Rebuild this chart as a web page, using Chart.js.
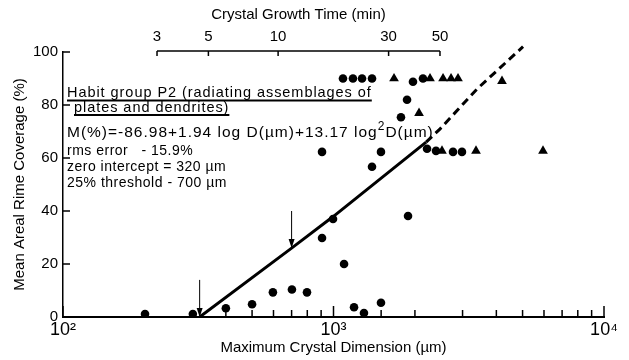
<!DOCTYPE html>
<html>
<head>
<meta charset="utf-8">
<script src="https://cdn.jsdelivr.net/npm/chart.js@4.4.0/dist/chart.umd.min.js"></script>
<style>
  body { margin: 0; background: #fff; }
  #wrap { width: 629px; height: 360px; }
</style>
</head>
<body>
<div id="wrap"><canvas id="rimeChart"></canvas></div>
<script>
const FONT = '"Liberation Sans", Arial, Helvetica, sans-serif';

// circles: max crystal dimension (um) / mean areal rime coverage (%)
const circleD = [201, 302, 400, 500, 597, 702, 798, 907, 996, 1094, 1191, 1296, 1498, 1886,
                 907, 1388, 1498, 1776, 1870, 1967,
                 1084, 1180, 1275, 1388, 2142,
                 2217, 2393, 2766, 2985];
const circleM = [1.1, 1.1, 3.3, 4.8, 9.3, 10.4, 9.3, 29.8, 37, 20, 3.7, 1.5, 5.4, 38.1,
                 62.3, 56.7, 62.3, 75.4, 82, 88.8,
                 90, 90, 90, 90, 90,
                 63.5, 62.7, 62.3, 62.3];
// triangles
const triD = [1674, 2274, 2541, 2720, 2886, 4197, 2071, 2518, 3364, 5950];
const triM = [90, 90, 90, 90, 90, 89, 76.9, 62.7, 62.7, 62.7];

// regression curve (solid) and its extension (dashed)
const fitD = [320, 700, 1000, 2200];
const fitM = [0, 26, 38, 66];
const extD = [2200, 2478, 3390, 5020];
const extM = [66, 71, 86, 102];

// arrows at zero intercept and 25% threshold
const arrowD = [320, 700];
const arrowFrom = [14, 40];
const arrowTo = [0, 26];

const yTicks = [0, 20, 40, 60, 80, 100];
const timeTicks = [3, 5, 10, 30, 50];
const dimLabels = { 100: '10\u00B2', 1000: '10\u00B3', 10000: '10\u2074' };

const pts = (xs, ys) => xs.map((d, i) => ({ x: d, y: ys[i] }));

const overlay = {
  id: 'overlay',
  afterDraw(chart) {
    const ctx = chart.ctx;
    const { left, right, top, bottom } = chart.chartArea;
    const xs = chart.scales.x, ys = chart.scales.y, ts = chart.scales.x2;
    ctx.save();
    ctx.strokeStyle = '#000';
    ctx.fillStyle = '#000';

    // inward tick marks, bottom axis
    ctx.lineWidth = 1.5;
    xs.ticks.forEach(t => {
      const px = xs.getPixelForValue(t.value);
      const major = Math.abs(Math.log10(t.value) % 1) < 1e-6;
      ctx.beginPath();
      ctx.moveTo(px, bottom);
      ctx.lineTo(px, bottom - (major ? 11 : 7));
      ctx.stroke();
    });
    // inward tick marks, left axis
    ys.ticks.forEach(t => {
      const py = ys.getPixelForValue(t.value);
      ctx.beginPath();
      ctx.moveTo(left, py);
      ctx.lineTo(left + 7, py);
      ctx.stroke();
    });

    // growth time axis along the top
    const t0 = ts.getPixelForValue(timeTicks[0]);
    const t1 = ts.getPixelForValue(timeTicks[timeTicks.length - 1]);
    ctx.beginPath();
    ctx.moveTo(t0, top - 1);
    ctx.lineTo(t1, top - 1);
    ctx.stroke();
    timeTicks.forEach(v => {
      const px = ts.getPixelForValue(v);
      ctx.beginPath();
      ctx.moveTo(px, top - 1);
      ctx.lineTo(px, top + 4);
      ctx.stroke();
    });
    ctx.font = '15px ' + FONT;
    ctx.textAlign = 'center';
    ctx.textBaseline = 'middle';
    ctx.fillText('Crystal Growth Time (min)', (t0 + t1) / 2, 15);

    // arrows
    ctx.lineWidth = 1;
    arrowD.forEach((d, i) => {
      const px = xs.getPixelForValue(d);
      const y0 = ys.getPixelForValue(arrowFrom[i]);
      const y1 = ys.getPixelForValue(arrowTo[i]);
      ctx.beginPath();
      ctx.moveTo(px, y0);
      ctx.lineTo(px, y1 - 2);
      ctx.stroke();
      ctx.beginPath();
      ctx.moveTo(px, y1);
      ctx.lineTo(px - 3, y1 - 9);
      ctx.lineTo(px + 3, y1 - 9);
      ctx.closePath();
      ctx.fill();
    });

    // annotation block (wide-set lettering)
    const x0 = left + 4;
    ctx.textAlign = 'left';
    ctx.textBaseline = 'alphabetic';
    ctx.letterSpacing = '0.95px';
    ctx.font = '14.5px ' + FONT;
    const l1 = 'Habit group P2 (radiating assemblages of';
    const l2 = 'plates and dendrites)';
    ctx.fillText(l1, x0, 97);
    ctx.fillText(l2, x0 + 7, 111.5);
    ctx.lineWidth = 2;
    ctx.beginPath();
    ctx.moveTo(x0, 100.5);
    ctx.lineTo(x0 + ctx.measureText(l1).width, 100.5);
    ctx.moveTo(x0 + 7, 115);
    ctx.lineTo(x0 + 7 + ctx.measureText(l2).width, 115);
    ctx.stroke();

    ctx.letterSpacing = '1px';
    ctx.font = '15.5px ' + FONT;
    let cx = x0;
    const eqA = 'M(%)=-86.98+1.94 log D(\u00B5m)+13.17 log';
    ctx.fillText(eqA, cx, 137);
    cx += ctx.measureText(eqA).width;
    ctx.font = '12px ' + FONT;
    ctx.fillText('2', cx, 129.5);
    cx += ctx.measureText('2').width;
    ctx.font = '15.5px ' + FONT;
    ctx.fillText('D(\u00B5m)', cx, 137);

    ctx.letterSpacing = '0.5px';
    ctx.font = '14px ' + FONT;
    ctx.fillText('rms error   - 15.9%', x0, 155);
    ctx.fillText('zero intercept = 320 \u00B5m', x0, 171);
    ctx.fillText('25% threshold - 700 \u00B5m', x0, 187);
    ctx.restore();
  }
};

const rimeChart = new Chart(document.getElementById('rimeChart'), {
  type: 'scatter',
  data: {
    datasets: [
      {
        data: pts(circleD, circleM),
        pointStyle: 'circle', pointRadius: 4.3,
        backgroundColor: '#000', borderWidth: 0
      },
      {
        data: pts(triD, triM),
        pointStyle: 'triangle', pointRadius: 5.6,
        backgroundColor: '#000', borderWidth: 0
      },
      {
        data: pts(fitD, fitM),
        showLine: true, pointRadius: 0,
        borderColor: '#000', borderWidth: 3
      },
      {
        data: pts(extD, extM),
        showLine: true, pointRadius: 0, clip: false,
        borderColor: '#000', borderWidth: 3, borderDash: [8, 5]
      }
    ]
  },
  options: {
    responsive: true,
    maintainAspectRatio: false,
    devicePixelRatio: 1,
    animation: false,
    layout: { padding: { right: 25 } },
    plugins: { legend: { display: false }, tooltip: { enabled: false } },
    scales: {
      x: {
        type: 'logarithmic', position: 'bottom', min: 100, max: 10000,
        grid: { display: false, drawTicks: false },
        border: { display: true, color: '#000', width: 2 },
        ticks: {
          autoSkip: false, maxRotation: 0, padding: 2, color: '#000',
          font: { family: FONT, size: 18 },
          callback: v => dimLabels[Math.round(v)] || ''
        },
        title: {
          display: true, text: 'Maximum Crystal Dimension (\u00B5m)', color: '#000',
          font: { family: FONT, size: 15 }, padding: { top: 0, bottom: 3 }
        },
        afterFit: s => { s.height = 43; }
      },
      x2: {
        type: 'logarithmic', position: 'top', min: 1.178, max: 255.4,
        grid: { display: false, drawTicks: false },
        border: { display: false },
        afterBuildTicks: s => { s.ticks = timeTicks.map(v => ({ value: v })); },
        ticks: {
          autoSkip: false, maxRotation: 0, padding: 6, color: '#000',
          font: { family: FONT, size: 15 },
          callback: v => String(v)
        },
        afterFit: s => { s.height = 52; }
      },
      y: {
        min: 0, max: 100,
        afterBuildTicks: s => { s.ticks = yTicks.map(v => ({ value: v })); },
        grid: { display: false, drawTicks: false },
        border: { display: true, color: '#000', width: 1.5 },
        ticks: { padding: 5, color: '#000', font: { family: FONT, size: 15 } },
        title: {
          display: true, text: 'Mean Areal Rime Coverage (%)', color: '#000',
          font: { family: FONT, size: 15 }, padding: { top: 11, bottom: 0 }
        },
        afterFit: s => { s.width = 63; }
      }
    }
  },
  plugins: [overlay]
});
</script>
</body>
</html>
